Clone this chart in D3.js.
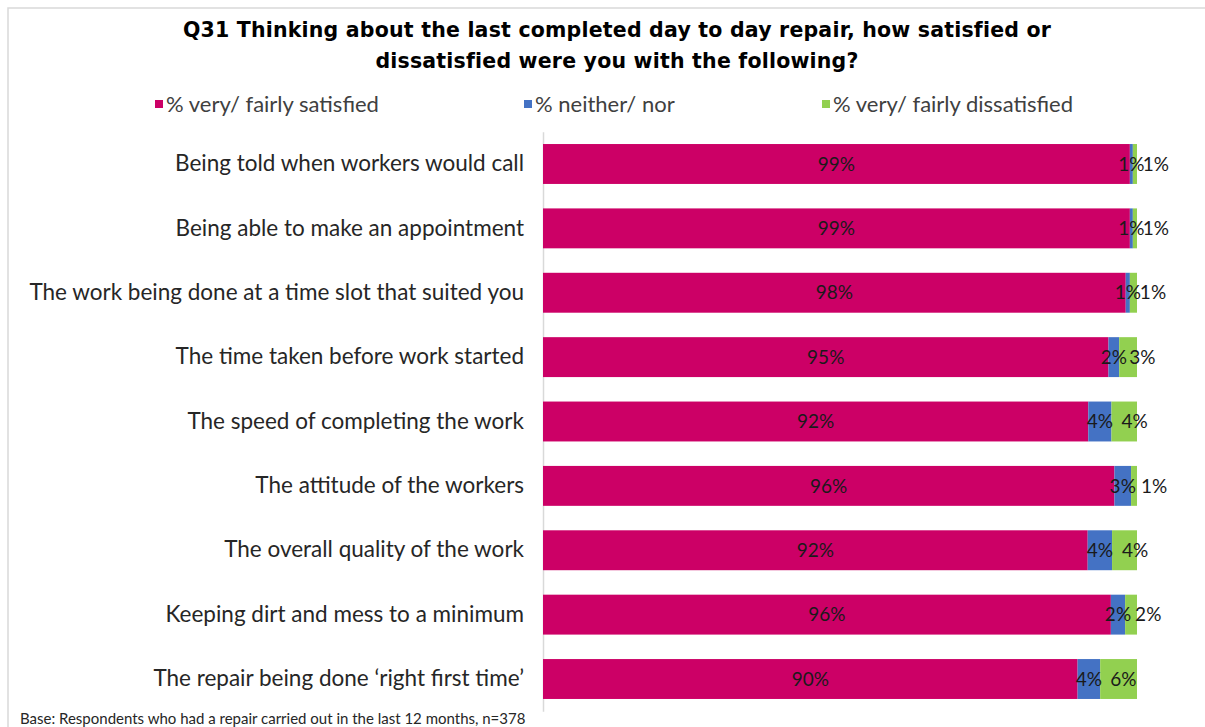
<!DOCTYPE html>
<html>
<head>
<meta charset="utf-8">
<script src="https://cdn.jsdelivr.net/npm/d3@7"></script>
<style>
  body { margin: 0; background: #fff; }
  svg { font-family: "Lato", "Liberation Sans", sans-serif; }
</style>
</head>
<body>
<div id="chart"></div>
<script>
// Chart data
const categories = [
  "Being told when workers would call",
  "Being able to make an appointment",
  "The work being done at a time slot that suited you",
  "The time taken before work started",
  "The speed of completing the work",
  "The attitude of the workers",
  "The overall quality of the work",
  "Keeping dirt and mess to a minimum",
  "The repair being done \u2018right first time\u2019"
];
const satisfied    = [98.8, 98.8, 98.1, 95.2, 91.8, 96.2, 91.7, 95.6, 90.0];
const neither      = [0.5, 0.5, 0.7, 1.8, 3.9, 2.8, 4.1, 2.4, 3.8];
const dissatisfied = [0.7, 0.7, 1.2, 3.0, 4.3, 1.0, 4.2, 2.0, 6.2];
const seriesNames = ["% very/ fairly satisfied", "% neither/ nor", "% very/ fairly dissatisfied"];
const seriesColors = ["#CC0066", "#4472C4", "#92D050"];

const W = 1205, H = 727;
const plot = { left: 543, right: 1137, top: 131.8, bottom: 711.2 };

const svg = d3.select("#chart").append("svg")
  .attr("width", W).attr("height", H);

// frame
svg.append("path")
  .attr("d", `M8,${H + 5} L8,8 L${W + 5},8`)
  .attr("fill", "none").attr("stroke", "#d9d9d9").attr("stroke-width", 1.5);

// title
const title = svg.append("text")
  .attr("text-anchor", "middle")
  .style("font-family", "'DejaVu Sans', sans-serif")
  .style("font-weight", "bold")
  .style("font-size", "20.5px")
  .style("letter-spacing", "0.2px")
  .attr("fill", "#000");
title.append("tspan").attr("x", 617).attr("y", 37)
  .text("Q31 Thinking about the last completed day to day repair, how satisfied or");
title.append("tspan").attr("x", 617).attr("y", 68)
  .text("dissatisfied were you with the following?");

// legend
const legendX = [155, 524, 822];
const legend = svg.selectAll(".legend").data(seriesNames).enter().append("g")
  .attr("class", "legend")
  .attr("transform", (d, i) => `translate(${legendX[i]},104)`);
legend.append("rect").attr("x", 0).attr("y", -4).attr("width", 8).attr("height", 8)
  .attr("fill", (d, i) => seriesColors[i]);
legend.append("text").attr("x", 11).attr("dy", "0.35em")
  .style("font-size", "22px").attr("fill", "#404040")
  .text(d => d);

// scales
const x = d3.scaleLinear().domain([0, 100]).range([plot.left, plot.right]);
const y = d3.scaleBand().domain(categories)
  .range([plot.top, plot.bottom])
  .paddingInner(0.38).paddingOuter(0.19);

const rows = categories.map((c, i) => ({
  cat: c, s: satisfied[i], n: neither[i], d: dissatisfied[i]
}));
const stack = d3.stack().keys(["s", "n", "d"])(rows);

// category axis
const yAxis = d3.axisLeft(y).tickSize(0).tickPadding(19);
const yG = svg.append("g").attr("transform", `translate(${plot.left},0)`).call(yAxis);
yG.select(".domain").attr("stroke", "#d9d9d9").attr("stroke-width", 1.5);
yG.selectAll("text")
  .style("font-family", "'Lato', sans-serif")
  .style("font-size", "22.5px").attr("fill", "#262626");

// bars
stack.forEach((layer, li) => {
  svg.append("g").selectAll("rect").data(layer).enter().append("rect")
    .attr("x", d => x(d[0]))
    .attr("y", d => y(d.data.cat))
    .attr("width", d => x(d[1]) - x(d[0]))
    .attr("height", y.bandwidth())
    .attr("fill", seriesColors[li]);
});

// data labels
const labels = svg.append("g").style("font-size", "19px").attr("fill", "#1a1a1a");
const mid = d => y(d.data.cat) + y.bandwidth() / 2;
// satisfied + neither: centred on segment
[0, 1].forEach(li => {
  labels.selectAll(".lab" + li).data(stack[li]).enter().append("text")
    .attr("class", "lab" + li)
    .attr("x", d => (x(d[0]) + x(d[1])) / 2)
    .attr("y", mid).attr("dy", "0.35em")
    .attr("text-anchor", "middle")
    .text(d => Math.round(d[1] - d[0]) + "%");
});
// dissatisfied: just right of the segment start
labels.selectAll(".lab2").data(stack[2]).enter().append("text")
  .attr("class", "lab2")
  .attr("x", d => x(d[0]) + 10)
  .attr("y", mid).attr("dy", "0.35em")
  .attr("text-anchor", "start")
  .text(d => Math.round(d[1] - d[0]) + "%");

// footnote
svg.append("text").attr("x", 20).attr("y", 724)
  .style("font-size", "15px").attr("fill", "#262626")
  .text("Base: Respondents who had a repair carried out in the last 12 months, n=378");
</script>
</body>
</html>
